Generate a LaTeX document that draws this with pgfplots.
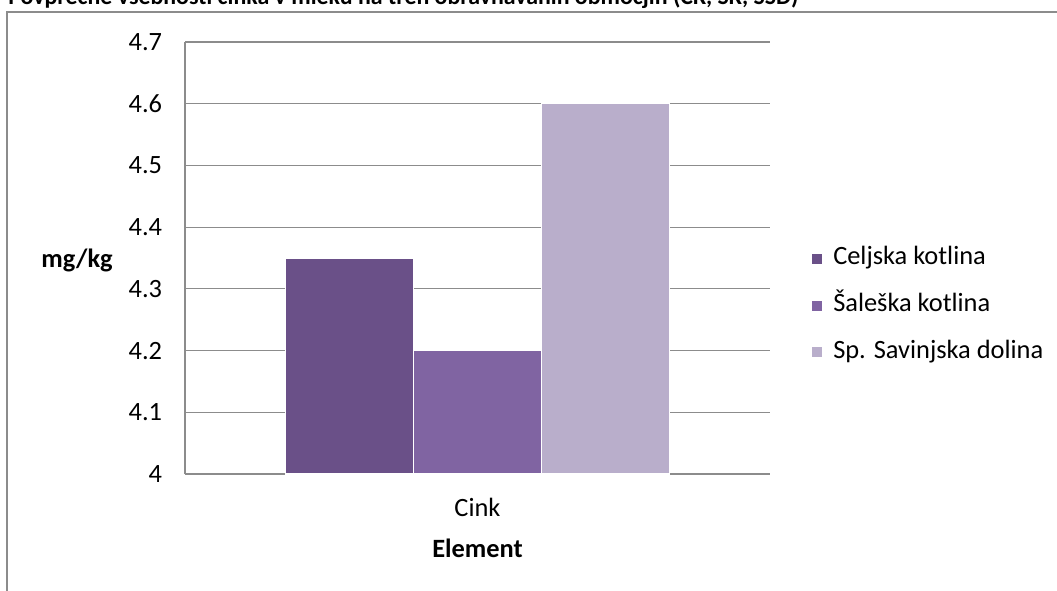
\documentclass[border=0pt]{standalone}
\usepackage{pgfplots}
\pgfplotsset{compat=1.18}
\usepackage{fontspec}
\setmainfont{Carlito}

\definecolor{celje}{HTML}{6A5088}
\definecolor{sal}{HTML}{8064A2}
\definecolor{ssd}{HTML}{B9AECB}
\definecolor{gridc}{HTML}{8C8C8C}
\newcommand{\cf}{\fontsize{19.8}{24}\selectfont}

\begin{document}
\begin{tikzpicture}
\useasboundingbox (0,0) rectangle (792.75pt,442.5pt);
\clip (0,0) rectangle (792.75pt,442.5pt);
% outer chart frame
\draw[gridc, line width=1.2pt] (5.25pt,-2pt) -- (5.25pt,433.5pt) -- (800pt,433.5pt);
% chart title (top edge runs off the page)
\node[anchor=base west, inner sep=0pt, font=\bfseries\fontsize{17.9}{22}\selectfont] at (6pt,438.75pt)
  {Povprečne vsebnosti cinka v mleku na treh obravnavanih območjih (CK, ŠK, SSD)};
\begin{axis}[
  at={(138.75pt,87pt)}, anchor=south west,
  scale only axis, width=438.75pt, height=324pt,
  ybar=0pt, bar width=96pt,
  xmin=-1, xmax=1, ymin=4, ymax=4.7,
  xtick={0}, xticklabels={Cink},
  ytick={4,4.1,4.2,4.3,4.4,4.5,4.6,4.7},
  yticklabels={4,4.1,4.2,4.3,4.4,4.5,4.6,4.7},
  axis x line*=bottom, axis y line*=left,
  axis line style={-, gridc, line width=1pt},
  major tick length=0pt,
  ymajorgrids, grid style={gridc, line width=0.9pt},
  tick label style={font=\cf, inner sep=0pt},
  yticklabel style={anchor=east, xshift=-17pt},
  xticklabel style={anchor=base, yshift=-31.5pt},
  xlabel={\bfseries Element},
  xlabel style={font=\cf, at={(axis description cs:0.5,0)}, anchor=base, yshift=-62.25pt, inner sep=0pt},
  ylabel={\bfseries mg/kg},
  ylabel style={font=\cf, rotate=-90, at={(axis description cs:0,0.479)}, anchor=base east, xshift=-54pt, inner sep=0pt},
  legend style={at={(1.0718,0.5278)}, anchor=north west, draw=none, fill=none,
    inner sep=0pt, row sep=16pt, legend cell align=left,
    nodes={inner sep=0pt, text height=14pt, text depth=5pt, font=\cf}},
  % square swatch followed by the gap before the entry text
  legend image code/.code={%
    \fill[#1,draw=none] (0pt,-3.75pt) rectangle (7.5pt,3.75pt);
    \path[draw=none,fill=none] (0pt,0pt) -- (15.75pt,0pt);},
]
\addplot[fill=celje, draw=white, line width=1pt] coordinates {(0,4.35)};
\addplot[fill=sal, draw=white, line width=1pt] coordinates {(0,4.2)};
\addplot[fill=ssd, draw=white, line width=1pt] coordinates {(0,4.6)};
\legend{Celjska kotlina, Šaleška kotlina, Sp. Savinjska dolina}
\end{axis}
\end{tikzpicture}
\end{document}
